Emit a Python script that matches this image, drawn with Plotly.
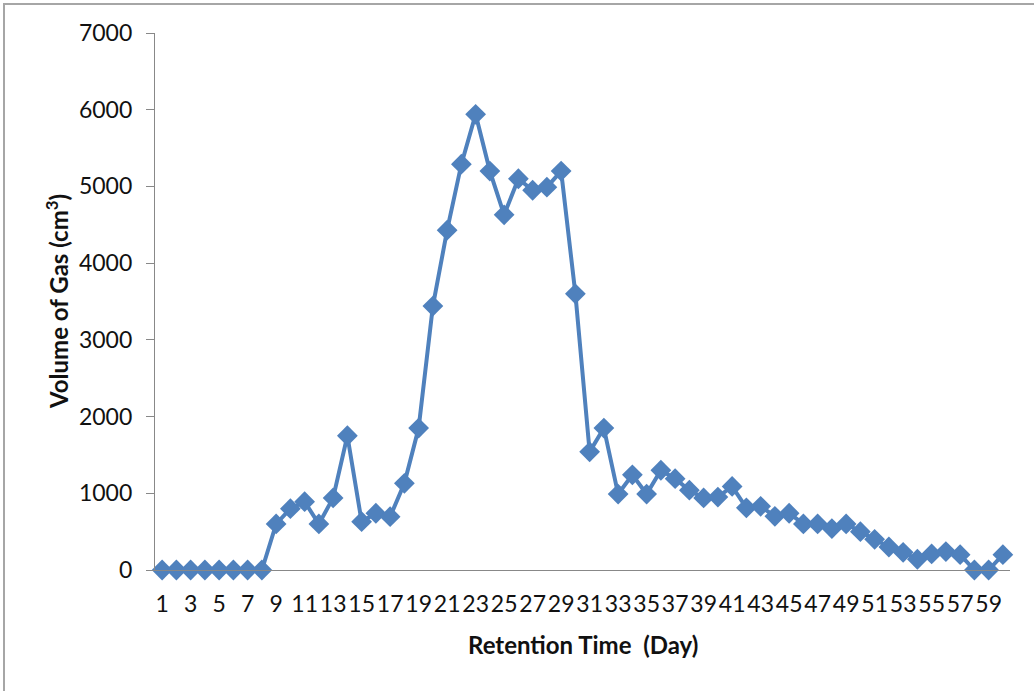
import plotly.graph_objects as go

days = list(range(1, 61))
volume = [0, 0, 0, 0, 0, 0, 0, 0, 600, 800,
          890, 600, 940, 1750, 630, 740, 695, 1130, 1850, 3440,
          4430, 5290, 5940, 5200, 4630, 5100, 4950, 4990, 5200, 3600,
          1540, 1850, 990, 1240, 990, 1300, 1190, 1040, 940, 950,
          1090, 810, 830, 700, 740, 600, 600, 540, 600, 500,
          400, 300, 230, 140, 210, 240, 200, 0, 0, 200]
tick_days = [d for d in days if d % 2 == 1]

W, H = 1034, 691
L, R, T, B = 155, 24, 33, 121
pw, ph = W - L - R, H - T - B

def px(x):
    return (x - L) / pw

def py(y):
    return (H - B - y) / ph

fig = go.Figure()
fig.add_trace(go.Scatter(
    x=[str(d) for d in days], y=volume, mode="lines+markers",
    line=dict(color="#4F81BD", width=4),
    marker=dict(symbol="diamond", size=16, color="#4F81BD"),
    cliponaxis=False, showlegend=False,
))

font_family = "Lato, Calibri, Carlito, sans-serif"
fig.update_layout(
    width=W, height=H,
    margin=dict(l=L, r=R, t=T, b=B),
    paper_bgcolor="white", plot_bgcolor="white",
    font=dict(family=font_family, size=23, color="#111111"),
    xaxis=dict(
        type="category", range=[-0.5, 59.5],
        categoryorder="array", categoryarray=[str(d) for d in days],
        tickmode="array", tickvals=[str(d) for d in tick_days],
        ticktext=[str(d) for d in tick_days],
        showgrid=False, zeroline=False, showline=True, linecolor="#888888", linewidth=1.2,
        ticks="", ticklabelstandoff=13, tickangle=0,
        tickfont=dict(size=23),
    ),
    yaxis=dict(
        range=[0, 7000], dtick=1000, showgrid=False, zeroline=False,
        showline=True, linecolor="#888888", linewidth=1.2,
        ticks="outside", ticklen=8, tickcolor="#888888", tickwidth=1.2,
        ticklabelstandoff=9, tickfont=dict(size=23),
    ),
    annotations=[
        dict(text="<b>Retention Time  (Day)</b>", xref="paper", yref="paper",
             x=px(583), y=py(644), xanchor="center", yanchor="middle",
             showarrow=False, font=dict(size=24, family=font_family, color="#111111")),
        dict(text="<b>Volume of Gas (cm<sup>3</sup>)</b>", xref="paper", yref="paper",
             x=px(57), y=py(302), xanchor="center", yanchor="middle", textangle=-90,
             showarrow=False, font=dict(size=24, family=font_family, color="#111111")),
    ],
    shapes=[
        dict(type="rect", xref="paper", yref="paper",
             x0=px(4), y0=py(700), x1=px(1040), y1=py(4),
             line=dict(color="#A6A6A6", width=2), fillcolor="rgba(0,0,0,0)", layer="below"),
    ],
)

fig.write_html("out.html", config={"displayModeBar": False},
               post_script="document.body.style.margin='0';document.body.style.padding='0';")
